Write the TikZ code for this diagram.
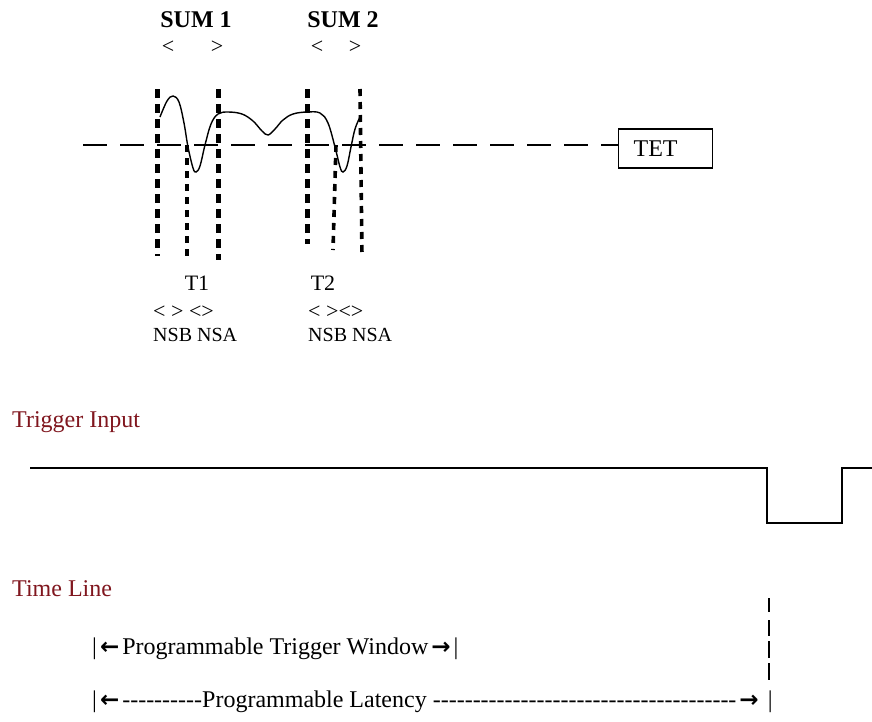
\documentclass[tikz,border=0pt]{standalone}
\usepackage{fontspec}
\setmainfont{Liberation Serif}
\newfontfamily\arrowfont{DejaVu Sans}
\newcommand\hy{-\kern0pt}
\newcommand\larr{\kern3pt{\arrowfont\bfseries\fontsize{23}{24}\selectfont ←}\kern3pt}
\newcommand\rarr{\kern3pt{\arrowfont\bfseries\fontsize{23}{24}\selectfont →}\kern3pt}
\definecolor{lblred}{RGB}{128,22,30}
\tikzset{
  px/.style={x=1pt,y=-1pt},
  thickdot/.style={line width=5pt,dash pattern=on 9pt off 6pt},
  thindot/.style={line width=3.6pt,dash pattern=on 7pt off 6pt},
  hdash/.style={line width=2.8pt,dash pattern=on 24pt off 13pt},
  wave/.style={line width=1.4pt},
  sig/.style={line width=1.6pt},
  big/.style={font=\fontsize{24}{28}\selectfont, inner sep=0pt},
  mid/.style={font=\fontsize{22}{26}\selectfont, inner sep=0pt},
  small/.style={font=\fontsize{20}{24}\selectfont, inner sep=0pt},
  glyph/.style={font=\fontsize{22}{26}\selectfont, inner sep=0pt},
  sumlbl/.style={font=\fontsize{24}{28}\selectfont\bfseries, inner sep=0pt},
  redlbl/.style={big, text=lblred},
}
\begin{document}
\begin{tikzpicture}[px]
\useasboundingbox (0,0) rectangle (872,721);
\fill[white] (0,0) rectangle (872,721);

% --- upper section: labels
\node[sumlbl] (sum1) at (196,20) {SUM 1};
\node[sumlbl] (sum2) at (343,20) {SUM 2};
\node[glyph] (s1l) at (168,47) {<};
\node[glyph] (s1r) at (217,47) {>};
\node[glyph] (s2l) at (317,47) {<};
\node[glyph] (s2r) at (355,47) {>};

% --- TET box and threshold line
\node[draw, line width=1.2pt, anchor=west, big, inner xsep=15pt, text width=64pt,
      align=left, minimum height=39pt] (tet) at (618,148.5) {TET};
\coordinate (hs) at (83,145);
\draw[hdash] (hs) -- (hs -| tet.west);

% --- window boundaries (dotted)
\draw[thickdot] (157,89) -- (157,256);
\draw[thindot] (187,145) -- (187,256);
\draw[thickdot] (218,89) -- (218,260);
\draw[thickdot] (307,89) -- (307,244);
\draw[thindot] (336,145) -- (333,250);
\draw[thindot] (360,89) -- (362,256);

% --- waveform
\draw[wave] plot[smooth, tension=0.6] coordinates {
  (160,117) (167,101) (173,96) (179,102) (184,123) (188,147) (193,168) (196,172)
  (200,166) (205,145) (211,124) (218,114) (228,112) (242,114) (253,121)
  (262,131) (268,135) (275,129) (283,120) (293,114) (307,112) (320,113)
  (328,123) (335,147) (340,167) (343,172) (347,166) (351,147) (355,129) (360,117)};

% --- lower labels of upper section
\node[mid] (t1) at (197,283) {T1};
\node[mid] (t2) at (323,283) {T2};
\node[glyph, anchor=west] (b1) at (153,312) {< > <>};
\node[small, anchor=west] (n1) at (153,335) {NSB NSA};
\node[glyph, anchor=west] (b2) at (308,312) {< ><>};
\node[small, anchor=west] (n2) at (308,335) {NSB NSA};

% --- trigger input
\node[redlbl, anchor=base west] (trig) at (12,427) {Trigger Input};
\coordinate (ts) at (30,468);
\draw[sig] (ts) -- (767,468) -- (767,523) -- (842,523) -- (842,468) -- (872,468);

% --- time line
\node[redlbl, anchor=base west] (tl) at (12,596) {Time Line};
\node[big, anchor=base west] (win) at (92,654)
  {|\larr Programmable Trigger Window\rarr|};
\node[big, anchor=base west] (lat) at (92,707)
  {|\larr\hy\hy\hy\hy\hy\hy\hy\hy\hy\hy Programmable Latency \hy\hy\hy\hy\hy\hy\hy\hy\hy\hy\hy\hy\hy\hy\hy\hy\hy\hy\hy\hy\hy\hy\hy\hy\hy\hy\hy\hy\hy\hy\hy\hy\hy\hy\hy\hy\hy\hy\rarr\ |};
\foreach \a/\b in {598/612, 620/636, 641/658, 663/680}
  \draw[line width=1.4pt] (769,\a) -- (769,\b);
\end{tikzpicture}
\end{document}
